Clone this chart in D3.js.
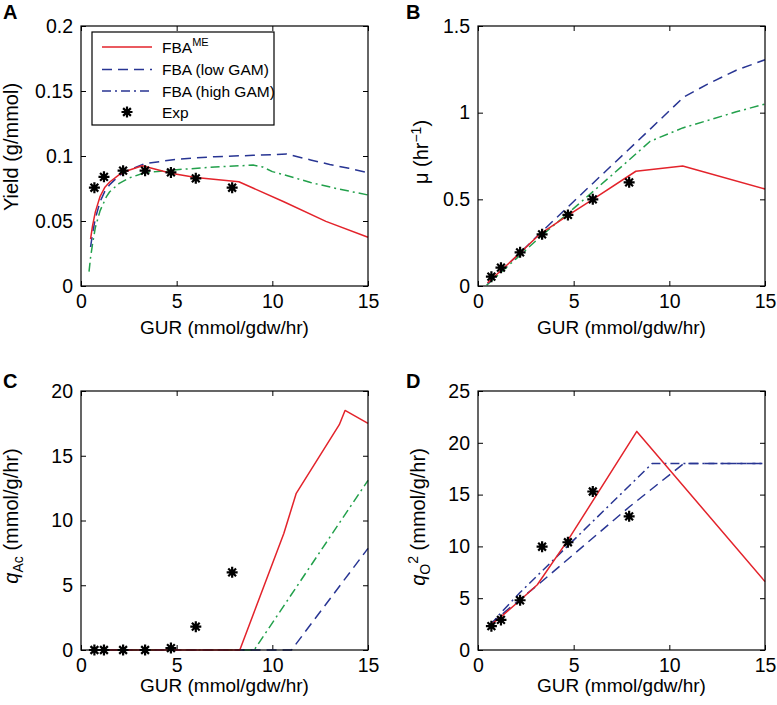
<!DOCTYPE html>
<html>
<head>
<meta charset="utf-8">
<script src="https://cdn.jsdelivr.net/npm/d3@7/dist/d3.min.js"></script>
<style>
  html, body { margin: 0; padding: 0; background: #ffffff; }
  svg { display: block; }
</style>
</head>
<body>
<svg id="chart" width="777" height="705"></svg>
<script>
// ---------------- data ----------------
const gurTicks = [0, 5, 10, 15];
const yieldTicks = [0, 0.05, 0.1, 0.15, 0.2];
const muTicks = [0, 0.5, 1, 1.5];
const acTicks = [0, 5, 10, 15, 20];
const o2Ticks = [0, 5, 10, 15, 20, 25];

const seriesNames = ["FBA", "FBA (low GAM)", "FBA (high GAM)", "Exp"];

// experimental points
const expGUR   = [0.7, 1.2, 2.2, 3.35, 4.7, 6.0, 7.9];
const expYield = [0.0756, 0.084, 0.0887, 0.0887, 0.0874, 0.0828, 0.0756];
const expMu    = [0.054, 0.106, 0.194, 0.298, 0.41, 0.50, 0.598];
const expAc    = [0, 0, 0, 0, 0.15, 1.8, 6.0];
const expO2    = [2.3, 2.9, 4.8, 9.97, 10.4, 15.3, 12.9];

// panel A: yield
const meYieldGUR   = [0.5, 0.6, 0.75, 1.0, 1.25, 1.5, 2.0, 2.5, 3.2, 4.7, 6.0, 8.25, 10.6, 12.8, 15];
const meYield      = [0.036, 0.046, 0.057, 0.069, 0.076, 0.080, 0.0857, 0.089, 0.0925, 0.0867, 0.0835, 0.0802, 0.0648, 0.0497, 0.0375];
const lowYieldGUR  = [0.5, 0.6, 0.75, 1.0, 1.25, 1.5, 2.0, 2.5, 3.3, 5.0, 7.0, 9.0, 10.75, 12.0, 13.0, 14.0, 15];
const lowYield     = [0.030, 0.040, 0.052, 0.065, 0.073, 0.078, 0.085, 0.089, 0.094, 0.0975, 0.0995, 0.1005, 0.1015, 0.097, 0.0935, 0.0905, 0.0872];
const highYieldGUR = [0.42, 0.5, 0.6, 0.75, 1.0, 1.34, 1.5, 2.0, 2.5, 3.4, 4.0, 5.0, 7.0, 9.0, 9.5, 10.0, 10.7, 12.0, 13.5, 15];
const highYield    = [0.011, 0.022, 0.032, 0.045, 0.058, 0.069, 0.0725, 0.079, 0.083, 0.0875, 0.088, 0.0895, 0.0915, 0.093, 0.0915, 0.088, 0.0852, 0.0796, 0.0745, 0.070];

// panel B: growth rate
const meMuGUR   = [0.5, 1.0, 1.5, 2.0, 3.2, 4.7, 6.0, 8.25, 10.7, 15];
const meMu      = [0.018, 0.069, 0.12, 0.171, 0.296, 0.408, 0.50, 0.662, 0.692, 0.56];
const lowMuGUR  = [0.5, 1.0, 2.0, 3.3, 5.0, 7.0, 9.0, 10.75, 12.0, 13.5, 15];
const lowMu     = [0.015, 0.065, 0.17, 0.31, 0.4875, 0.6965, 0.905, 1.09, 1.165, 1.245, 1.305];
const highMuGUR = [0.45, 0.6, 1.0, 1.5, 2.0, 3.4, 5.0, 7.0, 9.0, 10.7, 12.0, 13.5, 15];
const highMu    = [0.005, 0.019, 0.058, 0.109, 0.158, 0.298, 0.4475, 0.64, 0.835, 0.912, 0.955, 1.005, 1.05];

// panel C: acetate secretion
const meAcGUR   = [0.5, 8.3, 10.6, 11.25, 13.5, 13.8, 15];
const meAc      = [0, 0, 9.0, 12.1, 17.4, 18.5, 17.5];
const lowAcGUR  = [0.5, 11.0, 15];
const lowAc     = [0, 0, 7.85];
const highAcGUR = [0.5, 9.05, 15];
const highAc    = [0, 0, 13.1];

// panel D: oxygen uptake
const meO2GUR   = [0.65, 1.2, 2.2, 3.1, 4.7, 8.3, 15];
const meO2      = [2.4, 3.2, 4.8, 6.3, 10.6, 21.1, 6.6];
const lowO2GUR  = [0.65, 2.2, 3.2, 7.9, 10.75, 15];
const lowO2     = [2.5, 4.9, 6.4, 13.8, 18.0, 18.0];
const highO2GUR = [0.65, 1.1, 2.17, 9.1, 15];
const highO2    = [2.4, 3.4, 5.5, 18.0, 18.0];

// ---------------- styles ----------------
const FONT = "'Liberation Sans', Arial, Helvetica, sans-serif";
const RED = "#e3232b", BLUE = "#283593", GREEN = "#22a04b";
const DASH = "10,6", DASHDOT = "9,4,2,4";

const svg = d3.select("#chart");
svg.append("rect").attr("width", 777).attr("height", 705).attr("fill", "#fff");

function zip(xs, ys) { return xs.map((v, i) => [v, ys[i]]); }
function fmt(d) { return String(d); }

function starPath(r) {
  const a = r * Math.SQRT1_2;
  return `M${-r},0L${r},0M0,${-r}L0,${r}M${-a},${-a}L${a},${a}M${-a},${a}L${a},${-a}`;
}

function drawPanel(cfg) {
  const g = svg.append("g");
  const x = d3.scaleLinear().domain([0, 15]).range([cfg.left, cfg.right]);
  const y = d3.scaleLinear().domain([cfg.yTicks[0], cfg.yTicks[cfg.yTicks.length - 1]]).range([cfg.bottom, cfg.top]);

  const styleAxis = sel => {
    sel.select(".domain").remove();
    sel.selectAll("line").attr("stroke", "#000").attr("stroke-width", 1);
    sel.selectAll("text").attr("font-family", FONT).attr("font-size", 19.5).attr("fill", "#000");
  };
  g.append("g").attr("transform", `translate(0,${cfg.bottom})`)
    .call(d3.axisBottom(x).tickValues(gurTicks).tickFormat(fmt).tickSizeInner(-5).tickSizeOuter(0).tickPadding(8))
    .call(styleAxis);
  g.append("g").attr("transform", `translate(0,${cfg.top})`)
    .call(d3.axisTop(x).tickValues(gurTicks).tickFormat(() => "").tickSizeInner(-5).tickSizeOuter(0))
    .call(styleAxis);
  g.append("g").attr("transform", `translate(${cfg.left},0)`)
    .call(d3.axisLeft(y).tickValues(cfg.yTicks).tickFormat(fmt).tickSizeInner(-5).tickSizeOuter(0).tickPadding(8))
    .call(styleAxis);
  g.append("g").attr("transform", `translate(${cfg.right},0)`)
    .call(d3.axisRight(y).tickValues(cfg.yTicks).tickFormat(() => "").tickSizeInner(-5).tickSizeOuter(0))
    .call(styleAxis);

  const line = d3.line().x(d => x(d[0])).y(d => y(d[1]));
  cfg.lines.forEach(s => {
    g.append("path").datum(s.data).attr("d", line)
      .attr("fill", "none").attr("stroke", s.color).attr("stroke-width", 1.5)
      .attr("stroke-dasharray", s.dash || null).attr("stroke-linejoin", "round");
  });

  g.selectAll("path.star").data(cfg.exp).join("path").attr("class", "star")
    .attr("transform", d => `translate(${x(d[0])},${y(d[1])})`)
    .attr("d", starPath(5.5)).attr("stroke", "#000").attr("stroke-width", 2.2).attr("fill", "none");

  g.append("rect").attr("x", cfg.left).attr("y", cfg.top)
    .attr("width", cfg.right - cfg.left).attr("height", cfg.bottom - cfg.top)
    .attr("fill", "none").attr("stroke", "#000").attr("stroke-width", 1.2);

  // panel letter
  g.append("text").attr("x", cfg.letterX).attr("y", cfg.letterY).text(cfg.letter)
    .attr("font-family", FONT).attr("font-weight", "bold").attr("font-size", 20);

  // x label
  g.append("text").attr("x", (cfg.left + cfg.right) / 2).attr("y", cfg.xLabelY)
    .attr("text-anchor", "middle").attr("font-family", FONT).attr("font-size", 19)
    .text("GUR (mmol/gdw/hr)");

  // y label
  const yl = g.append("text").attr("transform", `translate(${cfg.yLabelX},${cfg.yLabelY}) rotate(-90)`)
    .attr("text-anchor", "middle").attr("font-family", FONT).attr("font-size", 20);
  cfg.yLabel(yl);
  return { g, x, y };
}

// Panel A
drawPanel({
  left: 81, right: 368, top: 26, bottom: 286, yTicks: yieldTicks,
  letter: "A", letterX: 3, letterY: 19, xLabelY: 334, yLabelX: 17.5, yLabelY: 147,
  yLabel: t => t.text("Yield (g/mmol)"),
  lines: [
    { data: zip(highYieldGUR, highYield), color: GREEN, dash: DASHDOT },
    { data: zip(lowYieldGUR, lowYield), color: BLUE, dash: DASH },
    { data: zip(meYieldGUR, meYield), color: RED }
  ],
  exp: zip(expGUR, expYield)
});

// Panel B
drawPanel({
  left: 478, right: 765, top: 26, bottom: 286, yTicks: muTicks,
  letter: "B", letterX: 406, letterY: 19, xLabelY: 334, yLabelX: 428, yLabelY: 152,
  yLabel: t => {
    t.append("tspan").text("\u03bc (hr");
    t.append("tspan").attr("font-size", 14).attr("dy", -7).text("\u22121");
    t.append("tspan").attr("dy", 7).text(")");
  },
  lines: [
    { data: zip(highMuGUR, highMu), color: GREEN, dash: DASHDOT },
    { data: zip(lowMuGUR, lowMu), color: BLUE, dash: DASH },
    { data: zip(meMuGUR, meMu), color: RED }
  ],
  exp: zip(expGUR, expMu)
});

// Panel C
drawPanel({
  left: 81, right: 368, top: 391, bottom: 650, yTicks: acTicks,
  letter: "C", letterX: 3, letterY: 388, xLabelY: 692, yLabelX: 18, yLabelY: 516,
  yLabel: t => {
    t.append("tspan").attr("font-style", "italic").text("q");
    t.append("tspan").attr("font-size", 14).attr("dy", 5).text("Ac");
    t.append("tspan").attr("dy", -5).text(" (mmol/g/hr)");
  },
  lines: [
    { data: zip(highAcGUR, highAc), color: GREEN, dash: DASHDOT },
    { data: zip(lowAcGUR, lowAc), color: BLUE, dash: DASH },
    { data: zip(meAcGUR, meAc), color: RED }
  ],
  exp: zip(expGUR, expAc)
});

// Panel D
drawPanel({
  left: 478, right: 765, top: 391, bottom: 650, yTicks: o2Ticks,
  letter: "D", letterX: 406, letterY: 388, xLabelY: 692, yLabelX: 424.5, yLabelY: 517,
  yLabel: t => {
    t.append("tspan").attr("font-style", "italic").text("q");
    t.append("tspan").attr("font-size", 14).attr("dy", 5).text("O");
    t.append("tspan").attr("font-size", 14).attr("dy", -12).text("2");
    t.append("tspan").attr("dy", 7).text(" (mmol/g/hr)");
  },
  lines: [
    { data: zip(highO2GUR, highO2), color: BLUE, dash: DASHDOT },
    { data: zip(lowO2GUR, lowO2), color: BLUE, dash: DASH },
    { data: zip(meO2GUR, meO2), color: RED }
  ],
  exp: zip(expGUR, expO2)
});

// Legend in panel A
const leg = svg.append("g");
leg.append("rect").attr("x", 92).attr("y", 32).attr("width", 182).attr("height", 93)
  .attr("fill", "#fff").attr("stroke", "#000").attr("stroke-width", 1.2);
const legRows = [
  { y: 47, color: RED, dash: null },
  { y: 69.5, color: BLUE, dash: DASH },
  { y: 91, color: BLUE, dash: DASHDOT },
  { y: 112, star: true }
];
legRows.forEach((r, i) => {
  if (r.star) {
    leg.append("path").attr("transform", `translate(127,${r.y})`).attr("d", starPath(5.5))
      .attr("stroke", "#000").attr("stroke-width", 2.2).attr("fill", "none");
  } else {
    leg.append("line").attr("x1", 102).attr("x2", 152).attr("y1", r.y).attr("y2", r.y)
      .attr("stroke", r.color).attr("stroke-width", 1.5).attr("stroke-dasharray", r.dash);
  }
  const t = leg.append("text").attr("x", 162).attr("y", r.y + 5.5)
    .attr("font-family", FONT).attr("font-size", 15.5);
  t.append("tspan").text(seriesNames[i]);
  if (i === 0) t.append("tspan").attr("font-size", 11).attr("dy", -7).text("ME");
});
</script>
</body>
</html>
